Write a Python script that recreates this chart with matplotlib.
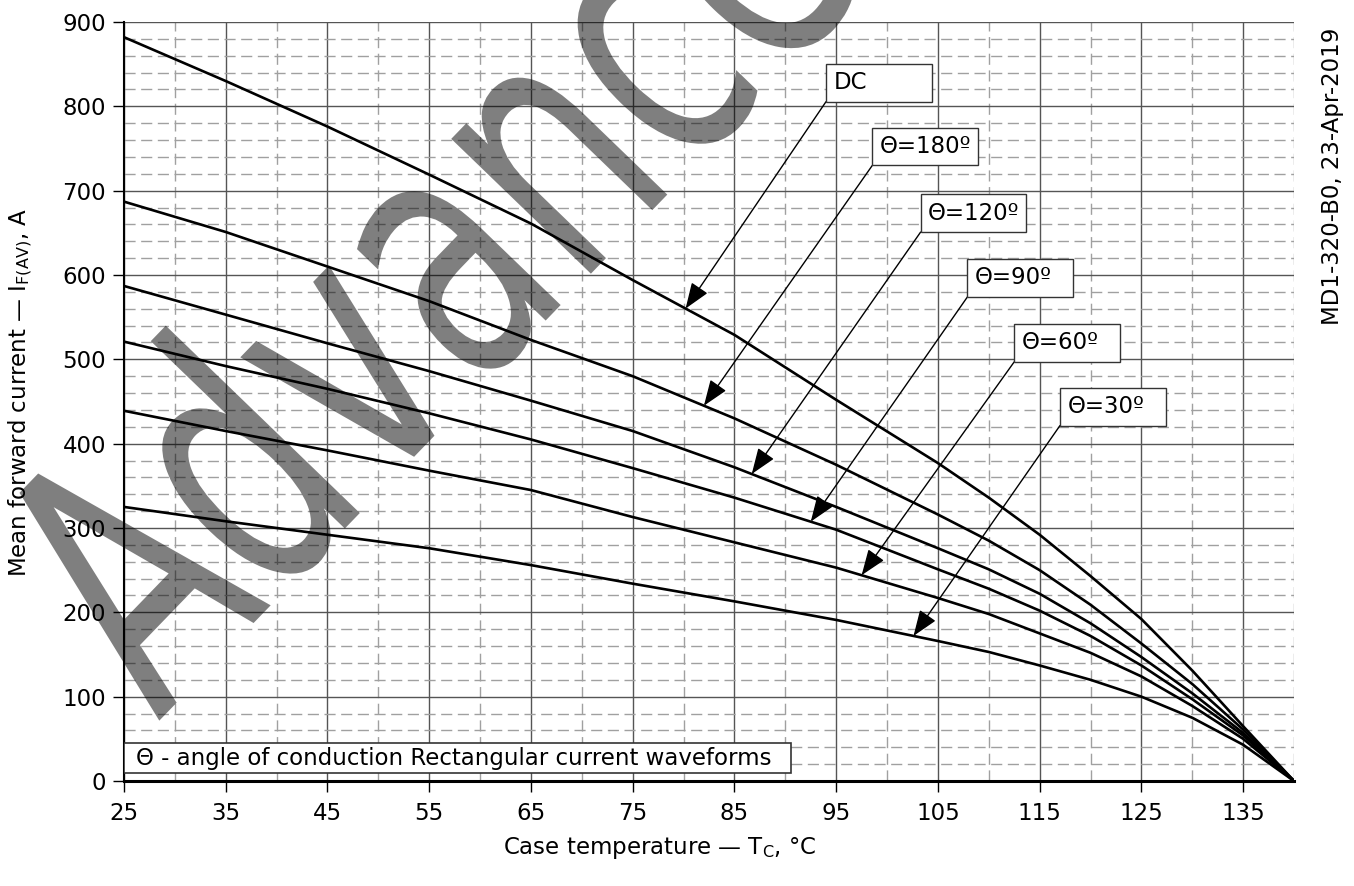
import numpy as np
import matplotlib.pyplot as plt
from matplotlib.patches import Rectangle, PathPatch
from matplotlib.textpath import TextPath
from matplotlib.font_manager import FontProperties
from matplotlib.transforms import Affine2D

plt.rcParams['font.family'] = ['DejaVu Sans']
plt.rcParams['mathtext.default'] = 'regular'

# case temperature, degC
temp = [25, 35, 45, 55, 65, 75, 85, 95, 105, 110, 115, 120, 125, 130, 135, 140]
# mean forward current, A
i_dc = [882, 830, 776, 719, 661, 594, 529, 452, 377, 336, 292, 243, 192, 131, 65, 0]
i_180 = [687, 651, 610, 569, 523, 480, 430, 375, 316, 285, 250, 209, 163, 115, 61, 0]
i_120 = [587, 553, 519, 486, 451, 415, 372, 325, 276, 251, 222, 187, 147, 104, 57, 0]
i_90 = [521, 492, 465, 436, 405, 371, 336, 298, 251, 228, 202, 172, 137, 97, 54, 0]
i_60 = [439, 415, 392, 368, 345, 313, 283, 253, 217, 198, 175, 152, 124, 89, 50, 0]
i_30 = [325, 308, 292, 276, 256, 234, 213, 191, 166, 153, 137, 120, 100, 75, 43, 0]

series = [i_dc, i_180, i_120, i_90, i_60, i_30]
labels = ['DC', 'Θ=180º', 'Θ=120º', 'Θ=90º', 'Θ=60º', 'Θ=30º']
# temperature where each label arrow hits its curve
tip_t = [80.2, 82.0, 86.7, 92.5, 97.5, 102.6]

xticks = np.arange(25, 136, 10)
yticks = np.arange(0, 901, 100)

FS = 16.5

fig = plt.figure(figsize=(13.54, 8.86), dpi=100)
ax = fig.add_axes([124 / 1354, 105 / 886, 1170 / 1354, 759 / 886])
ax.set_facecolor('none')

ax.set_xlim(25, 140)
ax.set_ylim(0, 900)
ax.set_xticks(xticks)
ax.set_xticks(np.arange(30, 141, 10), minor=True)
ax.set_yticks(yticks)
ax.set_yticks(np.arange(0, 901, 20), minor=True)
ax.grid(which='major', color='#555555', lw=1.0, ls='-', zorder=1)
ax.grid(which='minor', color='#a0a0a0', lw=1.0, ls=(0, (8, 4)), zorder=1)
ax.set_axisbelow(True)
ax.tick_params(which='major', direction='out', length=8, width=1.0,
               labelsize=FS, pad=5)
ax.tick_params(axis='x', which='major', pad=7)
ax.tick_params(which='minor', length=0)
for s in ['top', 'right']:
    ax.spines[s].set_visible(False)
ax.spines['left'].set_linewidth(1.5)
ax.spines['bottom'].set_linewidth(2.2)

for vals in series:
    ax.plot(temp, vals, color='black', lw=1.9, zorder=3, solid_joinstyle='round')

# label boxes with arrows
box_x = [94.0, 98.55, 103.3, 107.9, 112.5, 117.0]
box_y = [805.5, 729.9, 650.9, 574.0, 497.0, 421.5]
bw, bh = 10.4, 45
for lab, vals, t, bx, by in zip(labels, series, tip_t, box_x, box_y):
    ty = np.interp(t, temp, vals)
    ax.add_patch(Rectangle((bx, by), bw, bh, fc='white', ec='#333333',
                           lw=1.0, zorder=5))
    ax.text(bx + 0.75, by + bh / 2, lab, fontsize=FS, va='center', ha='left',
            zorder=6)
    ax.annotate('', xy=(t, ty), xytext=(bx, by),
                arrowprops=dict(arrowstyle='-|>,head_length=0.8,head_width=0.3',
                                color='black', lw=1.0, shrinkA=0, shrinkB=0,
                                mutation_scale=20), zorder=4)

ax.add_patch(Rectangle((25, 9.5), 65.6, 35.5, fc='white', ec='#333333',
                       lw=1.2, zorder=5))
ax.text(26.2, 27, 'Θ - angle of conduction Rectangular current waveforms',
        fontsize=FS, va='center', ha='left', zorder=6)

fig.text(21 / 1354, 1 - 392 / 886, 'Mean forward current — I$_{F(AV)}$, A',
         rotation=90, ha='center', va='center', fontsize=FS)
fig.text(660 / 1354, 1 - 848 / 886, 'Case temperature — T$_{C}$, °C',
         ha='center', va='center', fontsize=FS)
fig.text(1332 / 1354, 1 - 28 / 886, 'MD1-320-B0, 23-Apr-2019', rotation=90,
         ha='center', va='top', fontsize=FS)

# watermark
tp = TextPath((0, 0), 'Advanced', size=100, prop=FontProperties(family='DejaVu Sans'))
tr = Affine2D().scale(2.4, 3.55).rotate_deg(46).translate(158, 886 - 722)
fig.add_artist(PathPatch(tp, transform=tr, fc=(0, 0, 0, 0.5), ec='none', zorder=10))

fig.savefig('out.png', dpi=100)
